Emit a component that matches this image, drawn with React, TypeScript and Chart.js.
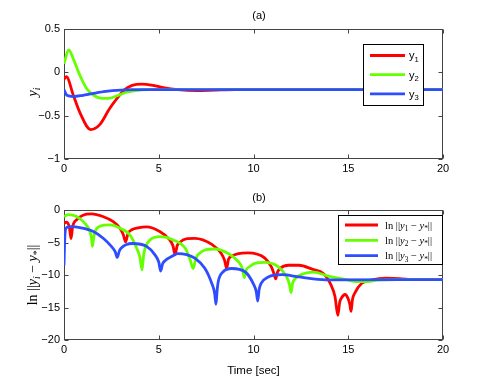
import React, { useEffect, useRef } from 'react';
import { Chart, registerables } from 'chart.js';
Chart.register(...registerables);

// ---------- DATA ----------
// Panel (a): states y_i vs time
const tY1 = [0, 0.12, 0.5, 0.85, 1.4, 1.9, 2.4, 2.8, 3.2, 3.6, 4.1, 4.7, 5.3, 6, 7, 8, 9, 20];
const vY1 = [-0.08, -0.05, -0.27, -0.47, -0.66, -0.6, -0.42, -0.3, -0.2, -0.15, -0.135, -0.15, -0.18, -0.2, -0.21, -0.205, -0.2, -0.2];
const tY2 = [0, 0.25, 0.5, 0.85, 1.2, 1.6, 2.0, 2.35, 2.8, 3.3, 3.8, 4.5, 5.5, 20];
const vY2 = [0.1, 0.26, 0.15, -0.04, -0.19, -0.27, -0.3, -0.3, -0.27, -0.23, -0.21, -0.2, -0.2, -0.2];
const tY3 = [0, 0.15, 0.5, 1.0, 1.5, 2.2, 3.0, 3.6, 20];
const vY3 = [-0.2, -0.265, -0.28, -0.265, -0.245, -0.22, -0.205, -0.2, -0.2];
const labelsA = ['y_1', 'y_2', 'y_3'];

// Panel (b): ln ||y_i - y_*|| vs time
const tL1 = [0, 0.12, 0.28, 0.37, 0.46, 0.67, 1.0, 1.45, 2.05, 2.6, 2.95, 3.13, 3.25, 3.38, 3.6, 3.9, 4.35, 5.05, 5.55, 5.75, 5.86, 5.97, 6.1, 6.5, 6.9, 7.8, 8.3, 8.48, 8.58, 8.68, 8.85, 9.2, 9.7, 10.6, 10.95, 11.08, 11.17, 11.26, 11.4, 11.85, 12.4, 13.1, 13.7, 14.1, 14.3, 14.45, 14.55, 14.65, 14.83, 15.0, 15.08, 15.15, 15.22, 15.36, 15.7, 16.2, 17.0, 17.7, 18.5, 20];
const vL1 = [-2.1, -1.85, -2.6, -4.4, -2.5, -1.5, -0.8, -0.6, -1.0, -1.8, -2.8, -3.8, -4.9, -3.6, -3.0, -2.75, -2.6, -3.3, -4.5, -5.5, -6.9, -5.5, -5.0, -4.4, -4.35, -5.3, -6.7, -7.8, -9.0, -7.6, -7.1, -6.7, -6.6, -7.4, -8.8, -9.8, -10.6, -9.6, -9.0, -8.5, -8.5, -9.1, -9.8, -11.6, -13.3, -16.2, -14.2, -13.5, -13.0, -13.7, -14.5, -15.6, -13.8, -12.7, -11.3, -10.8, -10.5, -10.55, -10.7, -10.7];
const tL2 = [0, 0.23, 0.67, 1.1, 1.37, 1.45, 1.5, 1.57, 1.64, 1.9, 2.43, 2.96, 3.48, 3.84, 4.0, 4.12, 4.2, 4.3, 4.54, 5.07, 5.77, 6.4, 6.65, 6.82, 6.95, 7.1, 7.44, 7.97, 8.67, 9.2, 9.4, 9.52, 9.62, 9.75, 10.08, 10.6, 11.3, 11.75, 11.9, 11.98, 12.06, 12.19, 12.63, 13.15, 14.0, 14.7, 15.4, 16.0, 16.5, 17.5, 20];
const vL2 = [-1.0, -0.7, -1.0, -2.05, -3.3, -4.3, -5.6, -4.2, -3.3, -2.5, -2.3, -2.8, -3.85, -5.9, -7.2, -9.2, -7.0, -5.7, -4.6, -4.1, -4.6, -5.9, -7.6, -9.0, -7.5, -6.8, -6.15, -6.0, -6.7, -7.95, -8.9, -10.4, -9.2, -8.8, -8.2, -8.05, -8.7, -10.3, -11.5, -12.7, -11.3, -10.6, -9.8, -9.55, -10.2, -10.6, -11.0, -11.0, -10.8, -10.7, -10.7];
const tL3 = [0, 0.05, 0.14, 0.4, 0.84, 1.55, 2.07, 2.5, 2.7, 2.81, 2.92, 3.04, 3.3, 3.6, 4.36, 4.8, 5.0, 5.1, 5.2, 5.33, 5.77, 6.0, 6.47, 6.9, 7.44, 7.8, 7.95, 8.02, 8.08, 8.14, 8.4, 8.85, 9.55, 10.0, 10.15, 10.22, 10.3, 10.4, 10.78, 11.5, 12.4, 13.15, 14.0, 20];
const vL3 = [-8.5, -3.8, -2.7, -2.55, -2.7, -3.3, -4.35, -5.6, -6.4, -7.3, -6.3, -5.8, -5.3, -5.15, -5.6, -6.9, -8.0, -9.4, -8.3, -7.8, -7.0, -6.7, -6.85, -7.4, -9.0, -11.3, -12.8, -14.5, -12.4, -11.0, -9.5, -9.0, -9.5, -11.4, -12.6, -14.0, -12.2, -11.3, -10.3, -9.95, -10.3, -10.6, -10.75, -10.7];
const labelsB = ['ln ||y_1 − y_*||', 'ln ||y_2 − y_*||', 'ln ||y_3 − y_*||'];

const xTicksStep = 5;
const colors = ['#ff0000', '#66ff00', '#2d4dff'];

// ---------- TEXT HELPERS ----------
const SANS = '"Liberation Sans", Arial, Helvetica, sans-serif';
const SERIF = '"Liberation Serif", "Times New Roman", serif';

type Part = { t: string; italic?: boolean; sub?: boolean };

function parse(s: string, math: boolean): Part[] {
  const parts: Part[] = [];
  let i = 0;
  while (i < s.length) {
    const c = s[i];
    if (c === '_') {
      const n = s[i + 1];
      parts.push({ t: n, sub: true, italic: math && /[a-z]/.test(n) });
      i += 2;
      continue;
    }
    if (math && s.startsWith('ln', i)) {
      parts.push({ t: 'ln' });
      i += 2;
      continue;
    }
    parts.push({ t: c, italic: math && /[a-z]/.test(c) });
    i++;
  }
  return parts;
}

function fontFor(p: Part, size: number, family: string) {
  const sz = p.sub ? size * 0.7 : size;
  return `${p.italic ? 'italic ' : ''}${sz}px ${family}`;
}

function drawRich(ctx: CanvasRenderingContext2D, s: string, math: boolean, x: number, baseline: number, size: number, family: string, align: 'left' | 'center') {
  const parts = parse(s, math);
  let w = 0;
  const widths = parts.map((p) => {
    ctx.font = fontFor(p, size, family);
    const m = ctx.measureText(p.t).width;
    w += m;
    return m;
  });
  let cx = align === 'center' ? x - w / 2 : x;
  ctx.textAlign = 'left';
  ctx.textBaseline = 'alphabetic';
  parts.forEach((p, i) => {
    ctx.font = fontFor(p, size, family);
    ctx.fillText(p.t, cx, baseline + (p.sub ? size * 0.22 : 0));
    cx += widths[i];
  });
}

// ---------- PLUGIN ----------
const matlabPlugin = {
  id: 'matlab',
  beforeDatasetsDraw(chart: any) {
    const { ctx, chartArea: ca, scales } = chart;
    ctx.save();
    ctx.strokeStyle = '#444';
    ctx.lineWidth = 1;
    const L = Math.round(ca.left) + 0.5, R = Math.round(ca.right) - 0.5;
    const T = Math.round(ca.top) + 0.5, B = Math.round(ca.bottom) - 0.5;
    ctx.strokeRect(L, T, R - L, B - T);
    const tl = 4;
    ctx.beginPath();
    scales.x.ticks.forEach((t: any) => {
      const px = Math.round(scales.x.getPixelForValue(t.value)) + 0.5;
      ctx.moveTo(px, B); ctx.lineTo(px, B - tl);
      ctx.moveTo(px, T); ctx.lineTo(px, T + tl);
    });
    scales.y.ticks.forEach((t: any) => {
      const py = Math.round(scales.y.getPixelForValue(t.value)) + 0.5;
      ctx.moveTo(L, py); ctx.lineTo(L + tl, py);
      ctx.moveTo(R, py); ctx.lineTo(R - tl, py);
    });
    ctx.stroke();
    ctx.restore();
  },
  afterDatasetsDraw(chart: any, _a: any, o: any) {
    const { ctx, chartArea: ca } = chart;
    ctx.save();
    ctx.fillStyle = '#000';
    // panel title
    ctx.font = `11px ${SANS}`;
    ctx.textAlign = 'center';
    ctx.textBaseline = 'middle';
    ctx.fillText(o.title, o.titleX, o.titleY);
    // y-axis title (rotated)
    ctx.save();
    ctx.translate(o.yTitleX, (ca.top + ca.bottom) / 2 + o.yTitleDy);
    ctx.rotate(-Math.PI / 2);
    drawRich(ctx, o.yTitle, true, 0, o.yTitleSize * 0.33, o.yTitleSize, SERIF, 'center');
    ctx.restore();
    // legend
    const lg = o.legend;
    const bx = ca.right - lg.dxRight, by = ca.top + lg.dyTop;
    ctx.fillStyle = '#fff';
    ctx.fillRect(bx, by, lg.w, lg.h);
    ctx.strokeStyle = '#000';
    ctx.lineWidth = 1;
    ctx.strokeRect(Math.round(bx) + 0.5, Math.round(by) + 0.5, lg.w, lg.h);
    chart.data.datasets.forEach((ds: any, i: number) => {
      const ry = by + lg.row0 + i * lg.rowStep;
      ctx.strokeStyle = ds.borderColor;
      ctx.lineWidth = 2.8;
      ctx.beginPath();
      ctx.moveTo(bx + lg.lineX0, ry);
      ctx.lineTo(bx + lg.lineX1, ry);
      ctx.stroke();
      ctx.fillStyle = '#000';
      drawRich(ctx, ds.label, lg.math, bx + lg.textX, ry + lg.fontSize * 0.35, lg.fontSize, lg.math ? SERIF : SANS, 'left');
    });
    ctx.restore();
  },
};

function fmt(v: number) {
  const s = String(Math.round(v * 100) / 100);
  return s.replace('-', '\u2212');
}

function makeDatasets(ts: number[][], vs: number[][], labels: string[]) {
  return ts.map((t, i) => ({
    label: labels[i],
    data: t.map((x, j) => ({ x, y: vs[i][j] })),
    borderColor: colors[i],
    backgroundColor: colors[i],
    borderWidth: 2.8,
    pointRadius: 0,
    fill: false,
    order: ts.length - i,
    cubicInterpolationMode: 'monotone' as const,
  }));
}

function baseScales(yMin: number, yMax: number, yStep: number, xHeight: number, xTitle?: string) {
  return {
    x: {
      type: 'linear' as const,
      min: 0,
      max: 20,
      ticks: { stepSize: xTicksStep, padding: 3, color: '#000', font: { family: SANS, size: 11 }, maxRotation: 0, autoSkip: false, callback: (v: any) => fmt(Number(v)) },
      grid: { display: false, drawTicks: false },
      border: { display: false },
      title: xTitle
        ? { display: true, text: xTitle, color: '#000', font: { family: SANS, size: 11.5 }, padding: { top: 0, bottom: 4 } }
        : { display: false },
      afterFit: (s: any) => { s.height = xHeight; },
    },
    y: {
      type: 'linear' as const,
      min: yMin,
      max: yMax,
      ticks: { stepSize: yStep, padding: 4, color: '#000', font: { family: SANS, size: 11 }, callback: (v: any) => fmt(Number(v)) },
      grid: { display: false, drawTicks: false },
      border: { display: false },
      afterFit: (s: any) => { s.width = 64; },
    },
  };
}

export default function App() {
  const refA = useRef<HTMLCanvasElement>(null);
  const refB = useRef<HTMLCanvasElement>(null);

  useEffect(() => {
    const chartA = new Chart(refA.current!, {
      type: 'line',
      data: { datasets: makeDatasets([tY1, tY2, tY3], [vY1, vY2, vY3], labelsA) },
      options: {
        animation: false,
        responsive: false,
        layout: { padding: { left: 0, right: 48, top: 29, bottom: 0 } },
        scales: baseScales(-1, 0.5, 0.5, 26),
        plugins: {
          legend: { display: false },
          tooltip: { enabled: false },
          matlab: {
            title: '(a)', titleX: 259, titleY: 16,
            yTitle: 'y_i', yTitleX: 32, yTitleDy: -2, yTitleSize: 14,
            legend: { dxRight: 80, dyTop: 15, w: 60, h: 61, row0: 11.5, rowStep: 19.2, lineX0: 7, lineX1: 42, textX: 46, fontSize: 11, math: false },
          },
        } as any,
      },
      plugins: [matlabPlugin],
    });
    const chartB = new Chart(refB.current!, {
      type: 'line',
      data: { datasets: makeDatasets([tL1, tL2, tL3], [vL1, vL2, vL3], labelsB) },
      options: {
        animation: false,
        responsive: false,
        layout: { padding: { left: 0, right: 48, top: 25, bottom: 0 } },
        scales: baseScales(-20, 0, 5, 42, 'Time [sec]'),
        plugins: {
          legend: { display: false },
          tooltip: { enabled: false },
          matlab: {
            title: '(b)', titleX: 259, titleY: 13,
            yTitle: 'ln ||y_i − y_*||', yTitleX: 32, yTitleDy: 0, yTitleSize: 14,
            legend: { dxRight: 105, dyTop: 5, w: 104, h: 49, row0: 10, rowStep: 15.3, lineX0: 7, lineX1: 40, textX: 47, fontSize: 10.5, math: true },
          },
        } as any,
      },
      plugins: [matlabPlugin],
    });
    return () => {
      chartA.destroy();
      chartB.destroy();
    };
  }, []);

  return (
    <div style={{ position: 'fixed', left: 0, top: 0, width: 491, height: 382, background: '#fff' }}>
      <canvas ref={refA} width={491} height={185} style={{ position: 'absolute', left: 0, top: 0 }} />
      <canvas ref={refB} width={491} height={197} style={{ position: 'absolute', left: 0, top: 185 }} />
    </div>
  );
}
